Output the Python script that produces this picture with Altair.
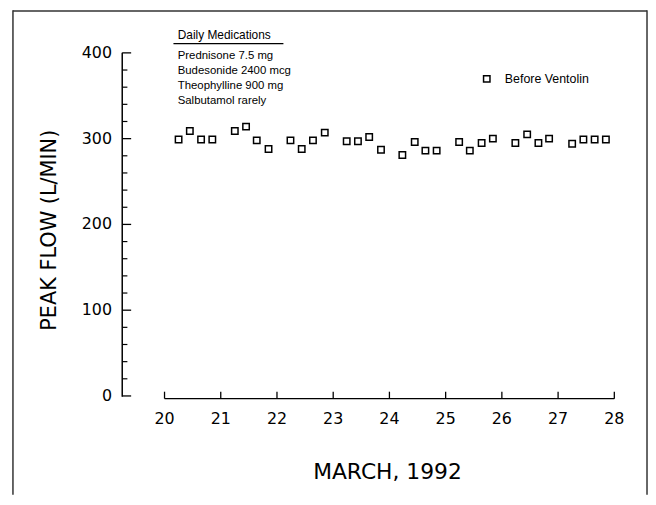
import altair as alt
import pandas as pd

# ---- data ----
days = [20.25, 20.45, 20.65, 20.85, 21.25, 21.45, 21.64, 21.85,
        22.24, 22.44, 22.64, 22.85, 23.24, 23.44, 23.64, 23.85,
        24.23, 24.45, 24.64, 24.84, 25.24, 25.43, 25.64, 25.84,
        26.24, 26.45, 26.65, 26.84, 27.25, 27.45, 27.65, 27.85]
peak_flow = [299, 309, 299, 299, 309, 314, 298, 288,
             298, 288, 298, 307, 297, 297, 302, 287,
             281, 296, 286, 286, 296, 286, 295, 300,
             295, 305, 295, 300, 294, 299, 299, 299]
series_name = "Before Ventolin"
x_ticks = [20, 21, 22, 23, 24, 25, 26, 27, 28]
y_major = [0, 100, 200, 300, 400]
y_minor = [20, 40, 60, 80, 120, 140, 160, 180, 220, 240, 260, 280, 320, 340, 360, 380]
med_title = "Daily Medications"
med_lines = ["Prednisone 7.5 mg", "Budesonide 2400 mcg", "Theophylline 900 mg", "Salbutamol rarely"]
x_title = "MARCH, 1992"
y_title = "PEAK FLOW (L/MIN)"

df = pd.DataFrame({"day": days, "flow": peak_flow, "series": series_name})
one = pd.DataFrame({"a": [0]})

W, H = 646, 489
xs = alt.Scale(domain=[20, 28], range=[158, 612])
ys = alt.Scale(domain=[0, 400], range=[389.3, 43])
TICKFONT = "DejaVu Sans"
SMALLFONT = "Liberation Sans"

points = alt.Chart(df).mark_point(shape="square", filled=False, size=42, strokeWidth=1.5, opacity=1).encode(
    x=alt.X("day:Q", scale=xs, axis=None),
    y=alt.Y("flow:Q", scale=ys, axis=None),
    color=alt.Color("series:N", scale=alt.Scale(range=["black"]),
                    legend=alt.Legend(title=None, orient="none", legendX=477, legendY=63,
                                      symbolType="square", symbolSize=42, symbolStrokeWidth=1.5,
                                      symbolStrokeColor="black", labelFont=SMALLFONT, labelFontSize=12.5,
                                      labelColor="black", labelOffset=12, padding=0)),
)

yline = alt.Chart(pd.DataFrame({"v": [400]})).mark_rule(color="black", strokeWidth=1.5).encode(
    x=alt.value(115.3), y=alt.Y("v:Q", scale=ys, axis=None), y2=alt.value(390))
ymaj = alt.Chart(pd.DataFrame({"v": y_major})).mark_rule(color="black", strokeWidth=1.3).encode(
    x=alt.value(115.3), x2=alt.value(124.3), y=alt.Y("v:Q", scale=ys, axis=None))
ymin = alt.Chart(pd.DataFrame({"v": y_minor})).mark_rule(color="black", strokeWidth=1.2).encode(
    x=alt.value(115.3), x2=alt.value(120.5), y=alt.Y("v:Q", scale=ys, axis=None))
ylab = alt.Chart(pd.DataFrame({"v": y_major})).mark_text(align="right", baseline="middle", font=TICKFONT,
                                                         fontSize=16, color="black").encode(
    x=alt.value(105), y=alt.Y("v:Q", scale=ys, axis=None), text=alt.Text("v:Q", format="d"))
xline = alt.Chart(pd.DataFrame({"a": [20], "b": [28]})).mark_rule(color="black", strokeWidth=1.5).encode(
    x=alt.X("a:Q", scale=xs, axis=None), x2="b:Q", y=alt.value(392))
xtk = alt.Chart(pd.DataFrame({"v": x_ticks})).mark_rule(color="black", strokeWidth=1.3).encode(
    x=alt.X("v:Q", scale=xs, axis=None), y=alt.value(385), y2=alt.value(392))
xlab = alt.Chart(pd.DataFrame({"v": x_ticks})).mark_text(align="center", baseline="top", font=TICKFONT,
                                                         fontSize=16, color="black").encode(
    x=alt.X("v:Q", scale=xs, axis=None), y=alt.value(405), text=alt.Text("v:Q", format="d"))

frame_l = alt.Chart(one).mark_rule(color="#333", strokeWidth=1.5).encode(x=alt.value(5), y=alt.value(0), y2=alt.value(H))
frame_r = alt.Chart(one).mark_rule(color="#333", strokeWidth=1.5).encode(x=alt.value(645), y=alt.value(0), y2=alt.value(H))
frame_t = alt.Chart(one).mark_rule(color="#333", strokeWidth=1.5).encode(x=alt.value(5), x2=alt.value(645), y=alt.value(0.75))

mtitle = alt.Chart(one).mark_text(text=med_title, align="left", baseline="middle", font=SMALLFONT,
                                  fontSize=12, color="black").encode(x=alt.value(171.3), y=alt.value(25))
uline = alt.Chart(one).mark_rule(color="black", strokeWidth=1.2).encode(
    x=alt.value(167), x2=alt.value(278), y=alt.value(33.7))
mlines = alt.Chart(one).mark_text(text=med_lines, align="left", baseline="top", font=SMALLFONT,
                                  fontSize=11.5, lineHeight=15.2, color="black").encode(
    x=alt.value(171.3), y=alt.value(40.2))

xt = alt.Chart(one).mark_text(text=x_title, align="center", baseline="middle", font=TICKFONT,
                              fontSize=22, color="black").encode(x=alt.value(383), y=alt.value(466))
yt = alt.Chart(one).mark_text(text=y_title, align="center", baseline="middle", font=TICKFONT,
                              fontSize=21, angle=270, color="black").encode(x=alt.value(42), y=alt.value(222))

chart = alt.layer(frame_l, frame_r, frame_t, yline, ymaj, ymin, ylab, xline, xtk, xlab,
                  mtitle, uline, mlines, xt, yt, points).properties(
    width=W, height=H, padding=0, autosize=alt.AutoSizeParams(type="none"),
    background="white"
).configure_view(stroke=None)

chart.save("out.html", embed_options={"renderer": "svg", "actions": False})
